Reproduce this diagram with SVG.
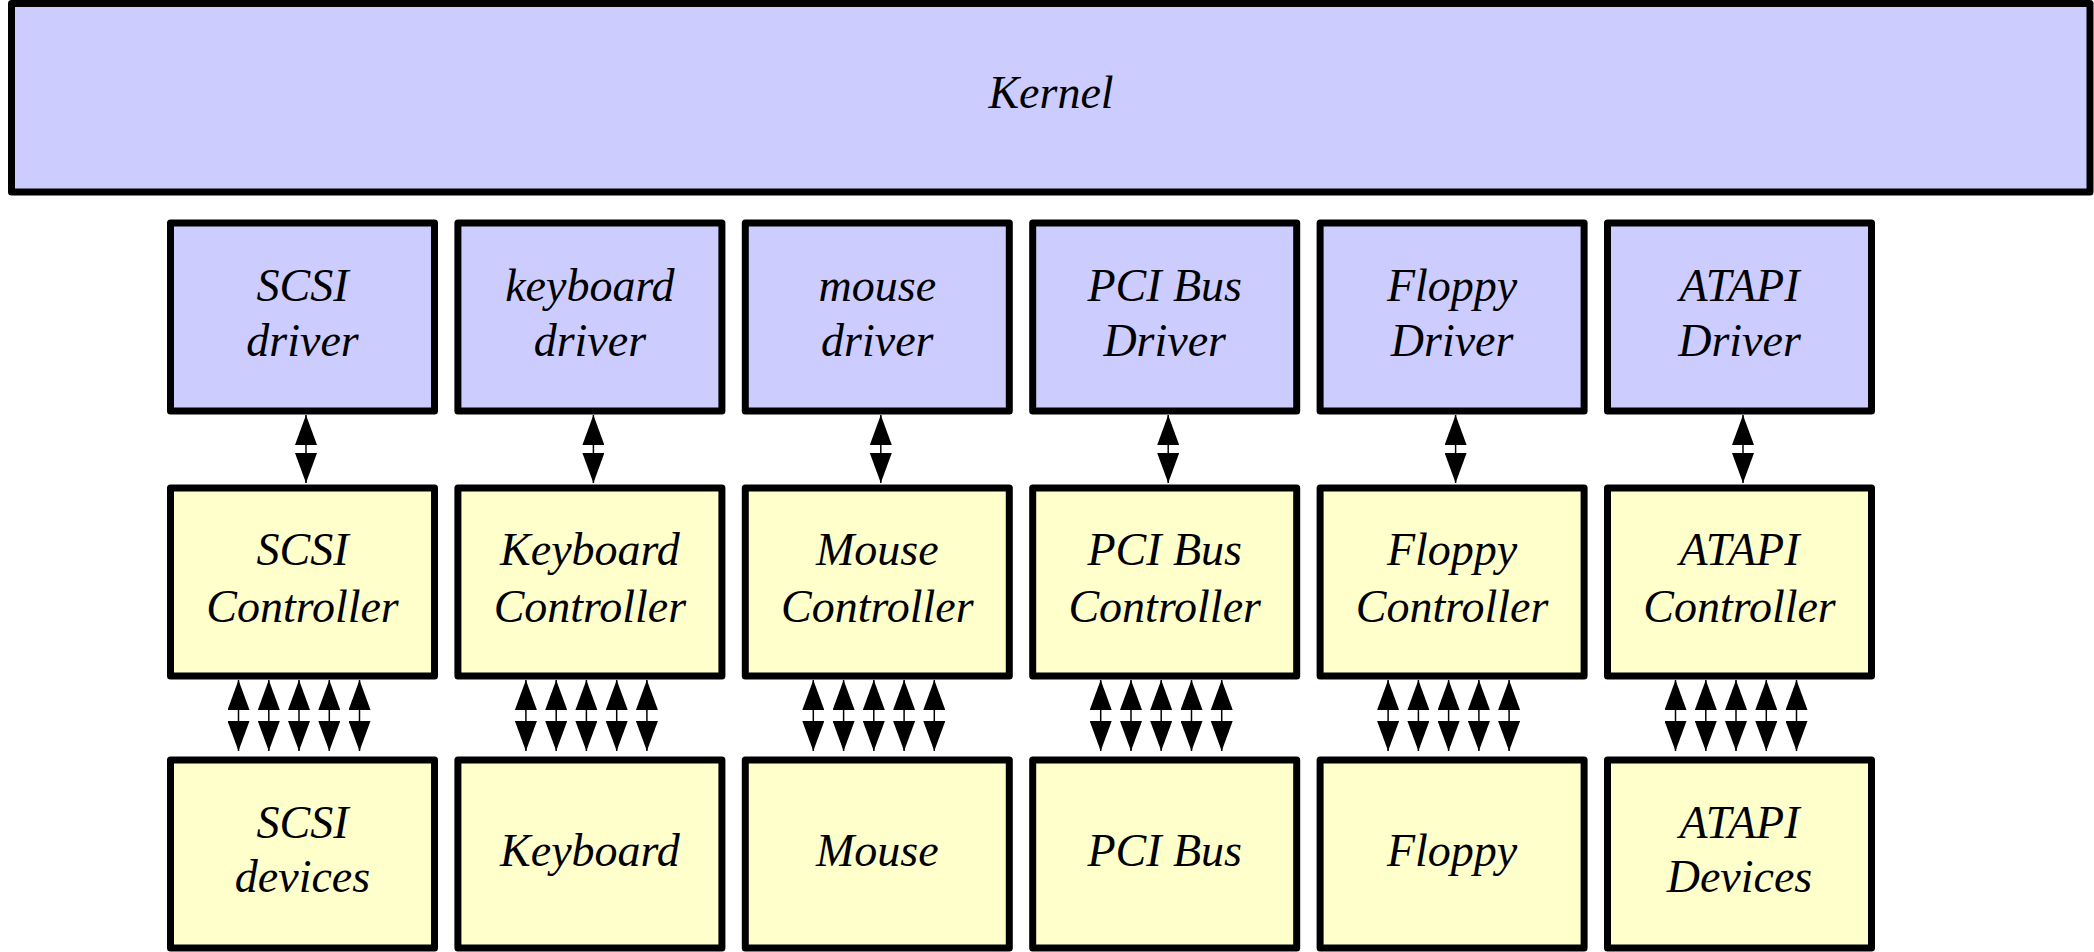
<svg xmlns="http://www.w3.org/2000/svg" width="2094" height="952" viewBox="0 0 2094 952">
<style>
.box{stroke:#000;stroke-width:7;stroke-linejoin:round}
.drv{fill:#ccccff}
.dev{fill:#ffffcc}
text{font-family:"Liberation Serif","DejaVu Serif",serif;font-style:italic;font-size:46px;fill:#000;text-anchor:middle}
.c{stroke:#000;stroke-width:1.5;fill:none;marker-start:url(#ah);marker-end:url(#ah)}
</style>
<defs>
<marker id="ah" markerUnits="userSpaceOnUse" markerWidth="30" markerHeight="22" refX="30" refY="11" orient="auto-start-reverse" viewBox="0 0 30 22">
<path d="M0,0 L30,11 L0,22 z" fill="#000"/>
</marker>
</defs>
<rect width="2094" height="952" fill="#fff"/>
<g id="kernel"><rect class="box drv" x="11.5" y="3.5" width="2078.5" height="188.5"/><text x="1051" y="108">Kernel</text></g>

<g id="scsi-driver"><rect class="box drv" x="170.5" y="223" width="264" height="188"/><text x="302.5" y="301">SCSI</text><text x="302.5" y="356">driver</text></g>
<g id="keyboard-driver"><rect class="box drv" x="457.9" y="223" width="264" height="188"/><text x="589.9" y="301">keyboard</text><text x="589.9" y="356">driver</text></g>
<g id="mouse-driver"><rect class="box drv" x="745.3" y="223" width="264" height="188"/><text x="877.3" y="301">mouse</text><text x="877.3" y="356">driver</text></g>
<g id="pci-driver"><rect class="box drv" x="1032.7" y="223" width="264" height="188"/><text x="1164.7" y="301">PCI Bus</text><text x="1164.7" y="356">Driver</text></g>
<g id="floppy-driver"><rect class="box drv" x="1320.1" y="223" width="264" height="188"/><text x="1452.1" y="301">Floppy</text><text x="1452.1" y="356">Driver</text></g>
<g id="atapi-driver"><rect class="box drv" x="1607.5" y="223" width="264" height="188"/><text x="1739.5" y="301">ATAPI</text><text x="1739.5" y="356">Driver</text></g>

<g id="scsi-controller"><rect class="box dev" x="170.5" y="488" width="264" height="188"/><text x="302.5" y="565">SCSI</text><text x="302.5" y="622">Controller</text></g>
<g id="keyboard-controller"><rect class="box dev" x="457.9" y="488" width="264" height="188"/><text x="589.9" y="565">Keyboard</text><text x="589.9" y="622">Controller</text></g>
<g id="mouse-controller"><rect class="box dev" x="745.3" y="488" width="264" height="188"/><text x="877.3" y="565">Mouse</text><text x="877.3" y="622">Controller</text></g>
<g id="pci-controller"><rect class="box dev" x="1032.7" y="488" width="264" height="188"/><text x="1164.7" y="565">PCI Bus</text><text x="1164.7" y="622">Controller</text></g>
<g id="floppy-controller"><rect class="box dev" x="1320.1" y="488" width="264" height="188"/><text x="1452.1" y="565">Floppy</text><text x="1452.1" y="622">Controller</text></g>
<g id="atapi-controller"><rect class="box dev" x="1607.5" y="488" width="264" height="188"/><text x="1739.5" y="565">ATAPI</text><text x="1739.5" y="622">Controller</text></g>

<g id="scsi-devices"><rect class="box dev" x="170.5" y="760" width="264" height="188"/><text x="302.5" y="838">SCSI</text><text x="302.5" y="892">devices</text></g>
<g id="keyboard"><rect class="box dev" x="457.9" y="760" width="264" height="188"/><text x="589.9" y="866">Keyboard</text></g>
<g id="mouse"><rect class="box dev" x="745.3" y="760" width="264" height="188"/><text x="877.3" y="866">Mouse</text></g>
<g id="pci-bus"><rect class="box dev" x="1032.7" y="760" width="264" height="188"/><text x="1164.7" y="866">PCI Bus</text></g>
<g id="floppy"><rect class="box dev" x="1320.1" y="760" width="264" height="188"/><text x="1452.1" y="866">Floppy</text></g>
<g id="atapi-devices"><rect class="box dev" x="1607.5" y="760" width="264" height="188"/><text x="1739.5" y="838">ATAPI</text><text x="1739.5" y="892">Devices</text></g>

<g id="connectors">
<line class="c" x1="306" y1="415" x2="306" y2="483"/>
<line class="c" x1="593.4" y1="415" x2="593.4" y2="483"/>
<line class="c" x1="880.8" y1="415" x2="880.8" y2="483"/>
<line class="c" x1="1168.2" y1="415" x2="1168.2" y2="483"/>
<line class="c" x1="1455.6" y1="415" x2="1455.6" y2="483"/>
<line class="c" x1="1743" y1="415" x2="1743" y2="483"/>

<line class="c" x1="238.5" y1="680" x2="238.5" y2="751"/>
<line class="c" x1="268.8" y1="680" x2="268.8" y2="751"/>
<line class="c" x1="299" y1="680" x2="299" y2="751"/>
<line class="c" x1="329.3" y1="680" x2="329.3" y2="751"/>
<line class="c" x1="359.5" y1="680" x2="359.5" y2="751"/>

<line class="c" x1="525.9" y1="680" x2="525.9" y2="751"/>
<line class="c" x1="556.2" y1="680" x2="556.2" y2="751"/>
<line class="c" x1="586.4" y1="680" x2="586.4" y2="751"/>
<line class="c" x1="616.7" y1="680" x2="616.7" y2="751"/>
<line class="c" x1="646.9" y1="680" x2="646.9" y2="751"/>

<line class="c" x1="813.3" y1="680" x2="813.3" y2="751"/>
<line class="c" x1="843.6" y1="680" x2="843.6" y2="751"/>
<line class="c" x1="873.8" y1="680" x2="873.8" y2="751"/>
<line class="c" x1="904.1" y1="680" x2="904.1" y2="751"/>
<line class="c" x1="934.3" y1="680" x2="934.3" y2="751"/>

<line class="c" x1="1100.7" y1="680" x2="1100.7" y2="751"/>
<line class="c" x1="1131" y1="680" x2="1131" y2="751"/>
<line class="c" x1="1161.2" y1="680" x2="1161.2" y2="751"/>
<line class="c" x1="1191.5" y1="680" x2="1191.5" y2="751"/>
<line class="c" x1="1221.7" y1="680" x2="1221.7" y2="751"/>

<line class="c" x1="1388.1" y1="680" x2="1388.1" y2="751"/>
<line class="c" x1="1418.4" y1="680" x2="1418.4" y2="751"/>
<line class="c" x1="1448.6" y1="680" x2="1448.6" y2="751"/>
<line class="c" x1="1478.9" y1="680" x2="1478.9" y2="751"/>
<line class="c" x1="1509.1" y1="680" x2="1509.1" y2="751"/>

<line class="c" x1="1675.5" y1="680" x2="1675.5" y2="751"/>
<line class="c" x1="1705.8" y1="680" x2="1705.8" y2="751"/>
<line class="c" x1="1736" y1="680" x2="1736" y2="751"/>
<line class="c" x1="1766.3" y1="680" x2="1766.3" y2="751"/>
<line class="c" x1="1796.5" y1="680" x2="1796.5" y2="751"/>
</g>
</svg>
